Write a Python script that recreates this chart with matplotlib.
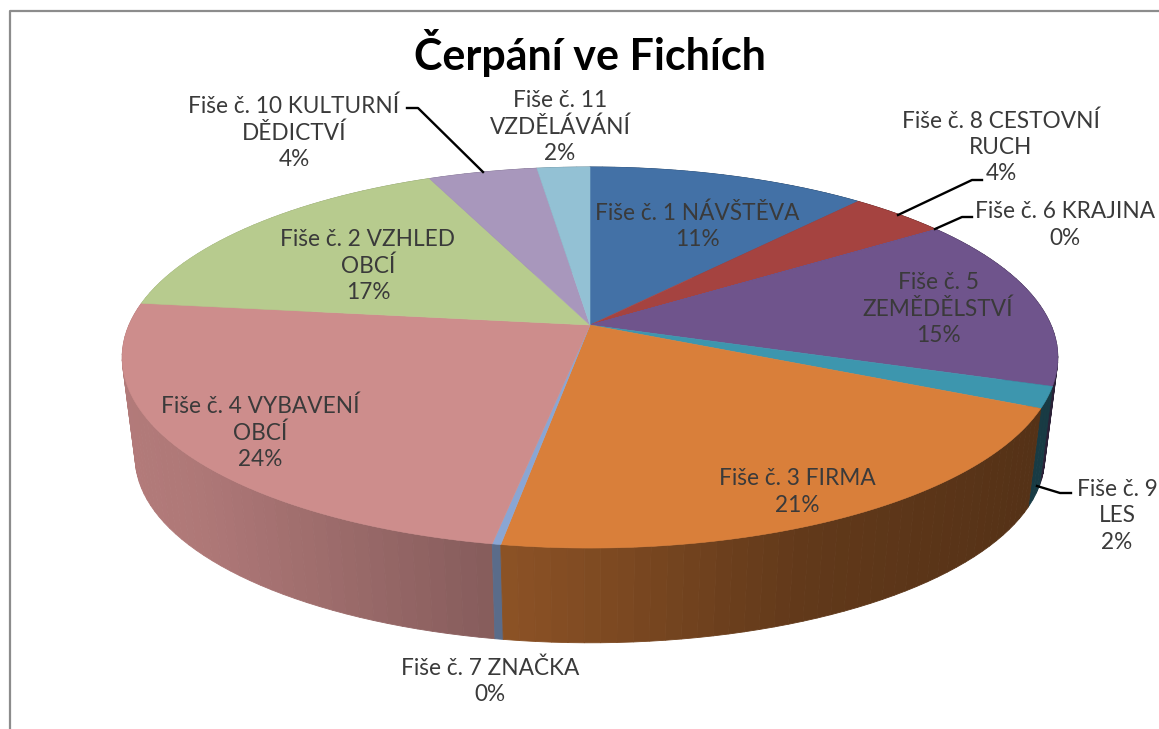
import matplotlib
matplotlib.use('Agg')
import matplotlib.pyplot as plt
import numpy as np
from matplotlib.patches import Polygon

plt.rcParams['font.family'] = ['Lato', 'DejaVu Sans']

title = 'Čerpání ve Fichích'
# clockwise from 12 o'clock
labels = ['Fiše č. 1 NÁVŠTĚVA\n11%', 'Fiše č. 8 CESTOVNÍ\nRUCH\n4%', 'Fiše č. 6 KRAJINA\n0%',
          'Fiše č. 5\nZEMĚDĚLSTVÍ\n15%', 'Fiše č. 9\nLES\n2%', 'Fiše č. 3 FIRMA\n21%',
          'Fiše č. 7 ZNAČKA\n0%', 'Fiše č. 4 VYBAVENÍ\nOBCÍ\n24%', 'Fiše č. 2 VZHLED\nOBCÍ\n17%',
          'Fiše č. 10 KULTURNÍ\nDĚDICTVÍ\n4%', 'Fiše č. 11\nVZDĚLÁVÁNÍ\n2%']
shares = [11.4, 4.0, 0.02, 14.68, 1.8, 20.7, 0.25, 24.1, 16.5, 4.45, 2.15]
colors = ['#4371a6', '#a54340', '#6f548c', '#6f548c', '#3d96ae', '#d97f3a',
          '#8aa6d4', '#cd8d8c', '#b7cb8e', '#a897bc', '#93c1d4']

label_pos = [(697, 226), (1001, 147), (1065, 225), (938, 309), (1117, 516), (797, 492),
             (490, 681), (260, 433), (368, 266), (294, 133), (560, 127)]
leaders = [[(407, 108), (418, 108), (483, 172)],
           [(898, 215), (972, 180), (982, 180)],
           [(935, 229), (962, 217), (972, 217)],
           [(1037, 486), (1060, 493), (1071, 493)]]

CX, CY = 590, 325
A, B, K = 185, 461, 0.1706  # perspective of the disc
DROP, SHRINK = 101, 0.972   # lower rim


def rim(theta, lower=False):
    u, v = np.sin(theta), np.cos(theta)
    w = 1 + K * v
    x, y = B * u / w, -A * v / w
    if lower:
        return CX + SHRINK * x, CY + DROP + SHRINK * y
    return CX + x, CY + y


def shade(x):
    return np.interp(x, [122, 200, 497, 800, 1045], [0.87, 0.85, 0.65, 0.45, 0.39])


fig = plt.figure(figsize=(11.59, 7.29), dpi=100)
ax = fig.add_axes([0, 0, 1, 1])
ax.set_xlim(0, 1159)
ax.set_ylim(729, 0)
ax.axis('off')

# frame
ax.plot([9.5, 9.5, 1159], [729, 11, 11], color='#8c8c8c', lw=1.6, solid_capstyle='butt')

edges = np.cumsum([0] + shares) / sum(shares) * 2 * np.pi

# side wall, back to front
quads = []
for i, col in enumerate(colors):
    n = max(int((edges[i + 1] - edges[i]) / 0.03), 1)
    t = np.linspace(edges[i], edges[i + 1], n + 1)
    for a, b in zip(t[:-1], t[1:]):
        quads.append((np.cos((a + b) / 2), a, b, col))
quads.sort(key=lambda q: -q[0])
for _, a, b, col in quads:
    x0, y0 = rim(a)
    x1, y1 = rim(b)
    x2, y2 = rim(b, True)
    x3, y3 = rim(a, True)
    f = shade((x0 + x1) / 2)
    c = np.array(matplotlib.colors.to_rgb(col)) * f
    ax.add_patch(Polygon([(x0, y0), (x1, y1), (x2, y2), (x3, y3)], closed=True,
                         facecolor=c, edgecolor=c, lw=0.6))

# top surface
for i, col in enumerate(colors):
    t = np.linspace(edges[i], edges[i + 1], 80)
    xs, ys = rim(t)
    pts = [(CX, CY)] + list(zip(xs, ys))
    ax.add_patch(Polygon(pts, closed=True, facecolor=col, edgecolor=col, lw=0.4))

for line in leaders:
    ax.plot([p[0] for p in line], [p[1] for p in line], color='black', lw=1.7)

for s, (x, y) in zip(labels, label_pos):
    ax.text(x, y, s, ha='center', va='center', fontsize=16.3, color='#3a3a3a', linespacing=1.3)

ax.text(590, 53, title, ha='center', va='center', fontsize=31, fontweight='bold', color='black')

fig.savefig('out.png', dpi=100)
